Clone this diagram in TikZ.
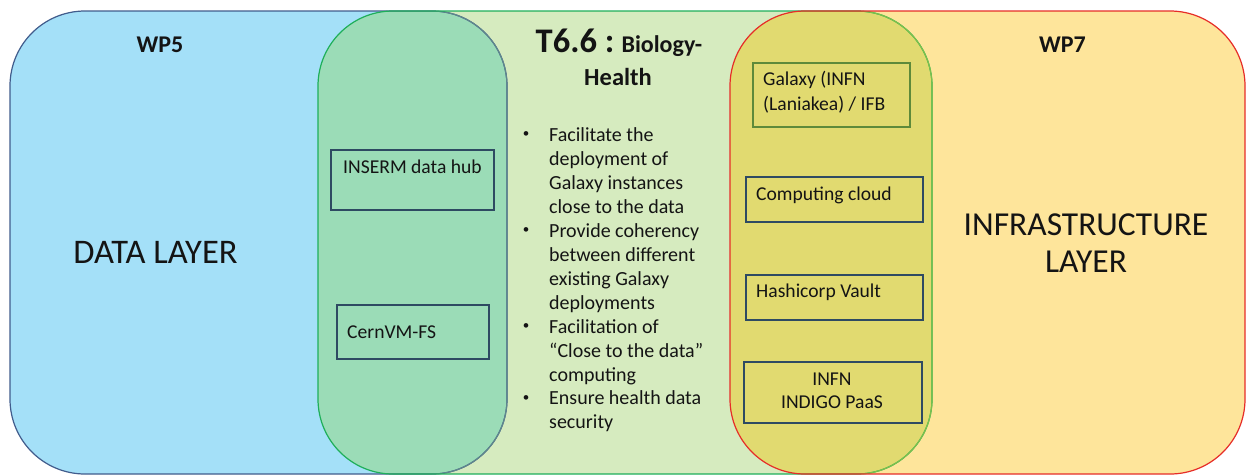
\documentclass[tikz,border=0pt]{standalone}
\usepackage{fontspec}
\setmainfont{Carlito}
\definecolor{blueF}{RGB}{164,224,248}
\definecolor{lgreenF}{RGB}{214,235,191}
\definecolor{tealF}{RGB}{155,220,183}
\definecolor{yellowF}{RGB}{254,229,155}
\definecolor{oliveF}{RGB}{225,218,112}
\definecolor{blueB}{RGB}{65,92,140}
\definecolor{blueIn}{RGB}{95,135,140}
\definecolor{greenB}{RGB}{30,175,90}
\definecolor{greenIn}{RGB}{125,192,75}
\definecolor{redB}{RGB}{230,45,40}
\definecolor{boxB}{RGB}{46,74,98}
\definecolor{galB}{RGB}{94,138,58}
\definecolor{txt}{RGB}{20,20,20}
\tikzset{
  region/.style={rounded corners=75, line width=1.2},
  boxst/.style={draw=boxB, line width=1.5, inner sep=0pt, anchor=north west},
  boxtxt/.style={font=\fontsize{19.6}{23}\selectfont, text=txt, inner sep=0pt},
  bultxt/.style={font=\fontsize{20}{24}\selectfont, text=txt, inner sep=0pt, anchor=base west},
  bigtxt/.style={text=txt, inner sep=0pt, anchor=base},
  wptxt/.style={font=\bfseries\fontsize{24}{29}\selectfont, text=txt, inner sep=0pt, anchor=base}
}
\begin{document}
\begin{tikzpicture}[x=1pt,y=-1pt]
\useasboundingbox (0,0) rectangle (1248,475);
% fills
\fill[blueF, rounded corners=75] (10,11) rectangle (507,474);
\fill[lgreenF, rounded corners=75] (318,11) rectangle (932,474);
\fill[yellowF, rounded corners=75] (730,11) rectangle (1245,474);
\begin{scope}
  \clip[rounded corners=75] (10,11) rectangle (507,474);
  \fill[tealF, rounded corners=75] (318,11) rectangle (932,474);
\end{scope}
\begin{scope}
  \clip[rounded corners=75] (730,11) rectangle (1245,474);
  \fill[oliveF, rounded corners=75] (318,11) rectangle (932,474);
\end{scope}
% borders
\draw[region, blueB] (10,11) rectangle (507,474);
\begin{scope}
  \clip[rounded corners=75] (318,11) rectangle (932,474);
  \draw[region, blueIn] (10,11) rectangle (507,474);
\end{scope}
\draw[region, greenB] (318,11) rectangle (932,474);
\begin{scope}
  \clip[rounded corners=75] (730,11) rectangle (1245,474);
  \draw[region, greenIn] (318,11) rectangle (932,474);
\end{scope}
\draw[region, redB] (730,11) rectangle (1245,474);

% headings
\node[wptxt] (wp5) at (160,52) {WP5};
\node[wptxt] (wp7) at (1062.5,52) {WP7};
\node[bigtxt, font=\fontsize{34.5}{40}\selectfont] (data) at (155.5,263) {DATA LAYER};
\node[bigtxt, font=\fontsize{33.5}{40}\selectfont] (infra1) at (1086,235) {INFRASTRUCTURE};
\node[bigtxt, font=\fontsize{33.5}{40}\selectfont] (infra2) at (1086,272) {LAYER};
\node[anchor=base, inner sep=0pt, text=txt] (title1) at (619,52)
  {\bfseries\fontsize{34.5}{40}\selectfont T6.6 :\fontsize{24}{29}\selectfont{} Biology-};
\node[anchor=base, inner sep=0pt, text=txt, font=\bfseries\fontsize{24.5}{29}\selectfont] (title2) at (618,85) {Health};

% bullets
\foreach \t [count=\i from 0] in {Facilitate the, deployment of, Galaxy instances, close to the data, Provide coherency, between different, existing Galaxy, deployments, Facilitation of, “Close to the data”, computing, Ensure health data, security}
  \node[bultxt] (line\i) at (549,141.5+23.95*\i) {\t};
\foreach \j in {0,4,8,11}
  \node[inner sep=0pt, anchor=center, text=txt] (dot\j) at (526,135+23.95*\j) {\fontsize{13}{13}\selectfont •};

% WP5 side boxes
\node[boxst, minimum width=163, minimum height=60] (inserm) at (330,149) {};
\node[boxtxt, anchor=base west] (insermT) at (343,173) {INSERM data hub};
\node[boxst, minimum width=152, minimum height=54] (cern) at (336,304) {};
\node[boxtxt, anchor=base west] (cernT) at (347,338) {CernVM-FS};

% WP7 side boxes
\node[boxst, draw=galB, minimum width=157, minimum height=64] (galaxy) at (752,62) {};
\node[boxtxt, anchor=base west] (galaxyT1) at (763,85) {Galaxy (INFN};
\node[boxtxt, anchor=base west] (galaxyT2) at (763,110) {(Laniakea) / IFB};
\node[boxst, minimum width=177, minimum height=45] (cloud) at (745,176) {};
\node[boxtxt, anchor=base west] (cloudT) at (756,200) {Computing cloud};
\node[boxst, minimum width=177, minimum height=45] (vault) at (745,274) {};
\node[boxtxt, anchor=base west] (vaultT) at (756,297) {Hashicorp Vault};
\node[boxst, minimum width=178, minimum height=61] (paas) at (743,361) {};
\node[boxtxt, anchor=base] (paasT1) at (832,385) {INFN};
\node[boxtxt, anchor=base] (paasT2) at (832,408) {INDIGO PaaS};
\end{tikzpicture}
\end{document}
